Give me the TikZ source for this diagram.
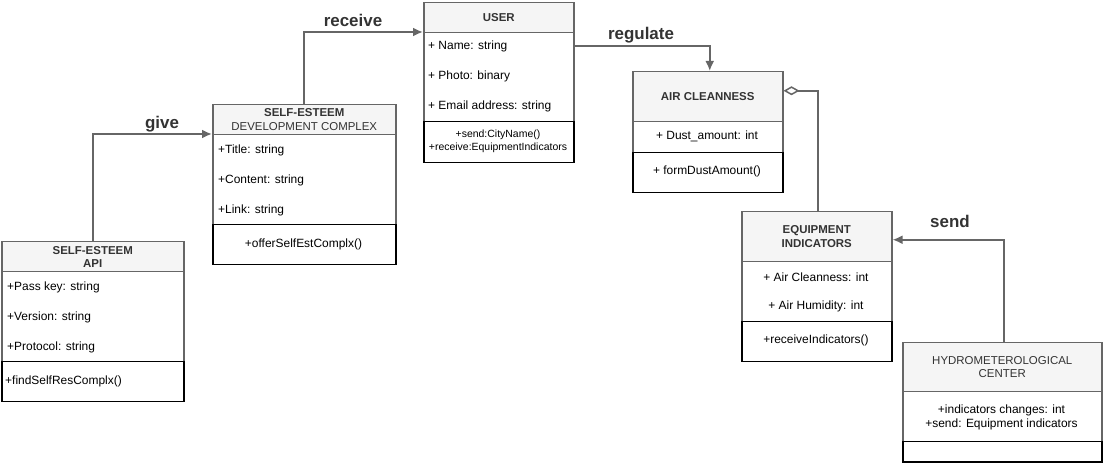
\documentclass[tikz,border=0pt]{standalone}
\usepackage{fontspec}
\setmainfont{Liberation Sans}
\usetikzlibrary{positioning,arrows.meta}
\definecolor{clsgray}{HTML}{666666}
\definecolor{hdrfill}{HTML}{F5F5F5}
\definecolor{txtgray}{HTML}{333333}
\tikzset{
  hdr/.style={draw=clsgray,fill=hdrfill,line width=1.5bp,text=txtgray,align=center,inner sep=0pt,anchor=north west,font=\fontsize{11.5}{13.5}\selectfont},
  attrbox/.style={draw=clsgray,fill=white,line width=1.5bp,inner sep=0pt,anchor=north west},
  methbox/.style={draw=black,fill=white,line width=1.5bp,inner sep=0pt,anchor=north west},
  attr/.style={inner sep=0pt,font=\fontsize{12}{14}\selectfont},
  lbl/.style={inner sep=0pt,text=txtgray,font=\fontsize{17}{19}\selectfont\bfseries},
  conn/.style={draw=clsgray,line width=2bp},
}
\begin{document}
\begin{tikzpicture}[x=1bp,y=-1bp,>={Latex[length=10bp,width=9bp]}]
\useasboundingbox (0,0) rectangle (1103,463);
%% classes
\node (api_h) at (1,241) [hdr,minimum width=182bp,minimum height=30bp] {\textbf{SELF-ESTEEM}\\\textbf{API}};
  \node (api_a) at (1,271) [attrbox,minimum width=182bp,minimum height=90bp] {};
  \node (api_m) at (1,361) [methbox,minimum width=182bp,minimum height=40bp] {};
  \node (api_a1) at (7,287) [attr,anchor=west] {+Pass key: string};
  \node (api_a2) at (7,317) [attr,anchor=west] {+Version: string};
  \node (api_a3) at (7,347) [attr,anchor=west] {+Protocol: string};
  \node (api_m1) at (5,381) [attr,anchor=west] {+findSelfResComplx()};
%
\node (dev_h) at (212,104) [hdr,minimum width=183bp,minimum height=30bp] {\textbf{SELF-ESTEEM}\\DEVELOPMENT COMPLEX};
  \node (dev_a) at (212,134) [attrbox,minimum width=183bp,minimum height=90bp] {};
  \node (dev_m) at (212,224) [methbox,minimum width=183bp,minimum height=40bp] {};
  \node (dev_a1) at (218,150) [attr,anchor=west] {+Title: string};
  \node (dev_a2) at (218,180) [attr,anchor=west] {+Content: string};
  \node (dev_a3) at (218,210) [attr,anchor=west] {+Link: string};
  \node (dev_m1) at (303.5,244) [attr] {+offerSelfEstComplx()};
%
\node (user_h) at (423,2) [hdr,minimum width=150bp,minimum height=30bp] {\textbf{USER}};
  \node (user_a) at (423,32) [attrbox,minimum width=150bp,minimum height=89bp] {};
  \node (user_m) at (423,121) [methbox,minimum width=150bp,minimum height=41bp] {};
  \node (user_a1) at (428,46) [attr,anchor=west] {+ Name: string};
  \node (user_a2) at (428,76) [attr,anchor=west] {+ Photo: binary};
  \node (user_a3) at (428,106) [attr,anchor=west] {+ Email address: string};
  \node (user_m1) at (498,141.5) [attr,align=center,font=\fontsize{10.5}{13}\selectfont] {+send:CityName()\\+receive:EquipmentIndicators};
%
\node (air_h) at (632,71) [hdr,minimum width=150bp,minimum height=50bp] {\textbf{AIR CLEANNESS}};
  \node (air_a) at (632,121) [attrbox,minimum width=150bp,minimum height=31bp] {};
  \node (air_m) at (632,152) [methbox,minimum width=150bp,minimum height=40bp] {};
  \node (air_a1) at (707,136) [attr] {+ Dust\_amount: int};
  \node (air_m1) at (707,171) [attr] {+ formDustAmount()};
%
\node (eq_h) at (741,211) [hdr,minimum width=150bp,minimum height=50bp] {\textbf{EQUIPMENT}\\\textbf{INDICATORS}};
  \node (eq_a) at (741,261) [attrbox,minimum width=150bp,minimum height=60bp] {};
  \node (eq_m) at (741,321) [methbox,minimum width=150bp,minimum height=40bp] {};
  \node (eq_a1) at (816,277) [attr] {+ Air Cleanness: int};
  \node (eq_a2) at (816,306) [attr] {+ Air Humidity: int};
  \node (eq_m1) at (816,340) [attr] {+receiveIndicators()};
%
\node (hyd_h) at (902,342) [hdr,minimum width=199bp,minimum height=49bp] {HYDROMETEROLOGICAL\\CENTER};
  \node (hyd_a) at (902,391) [attrbox,minimum width=199bp,minimum height=50bp] {};
  \node (hyd_m) at (902,441) [methbox,minimum width=199bp,minimum height=20bp] {};
  \node (hyd_a1) at (1001.5,417) [attr,align=center,font=\fontsize{12}{14}\selectfont] {+indicators changes: int\\+send: Equipment indicators};
%% connectors
\coordinate (user_out) at ([yshift=-14bp]user_a.north east);
\coordinate (air_out) at ([yshift=6bp]air_h.east);
\coordinate (eq_in) at ([yshift=-3bp]eq_h.east);
\draw [conn,->] (api_h.north) |- (dev_a.north west);
  \draw [conn,->] (dev_h.north) |- (user_a.north west);
  \draw [conn,->] (user_out) -| ([xshift=2bp]air_h.north);
  \draw [conn,{Diamond[open,length=16bp,width=9bp,line width=1.5bp]}-] (air_out) -| ([xshift=1bp]eq_h.north);
  \draw [conn,->] ([xshift=1.5bp]hyd_h.north) |- (eq_in);
%% labels
\node (give_lbl) at (162,124) [lbl] {give};
  \node (receive_lbl) at (353,20) [lbl] {receive};
  \node (regulate_lbl) at (641,35) [lbl] {regulate};
  \node (send_lbl) at (950,221) [lbl] {send};
\end{tikzpicture}
\end{document}
